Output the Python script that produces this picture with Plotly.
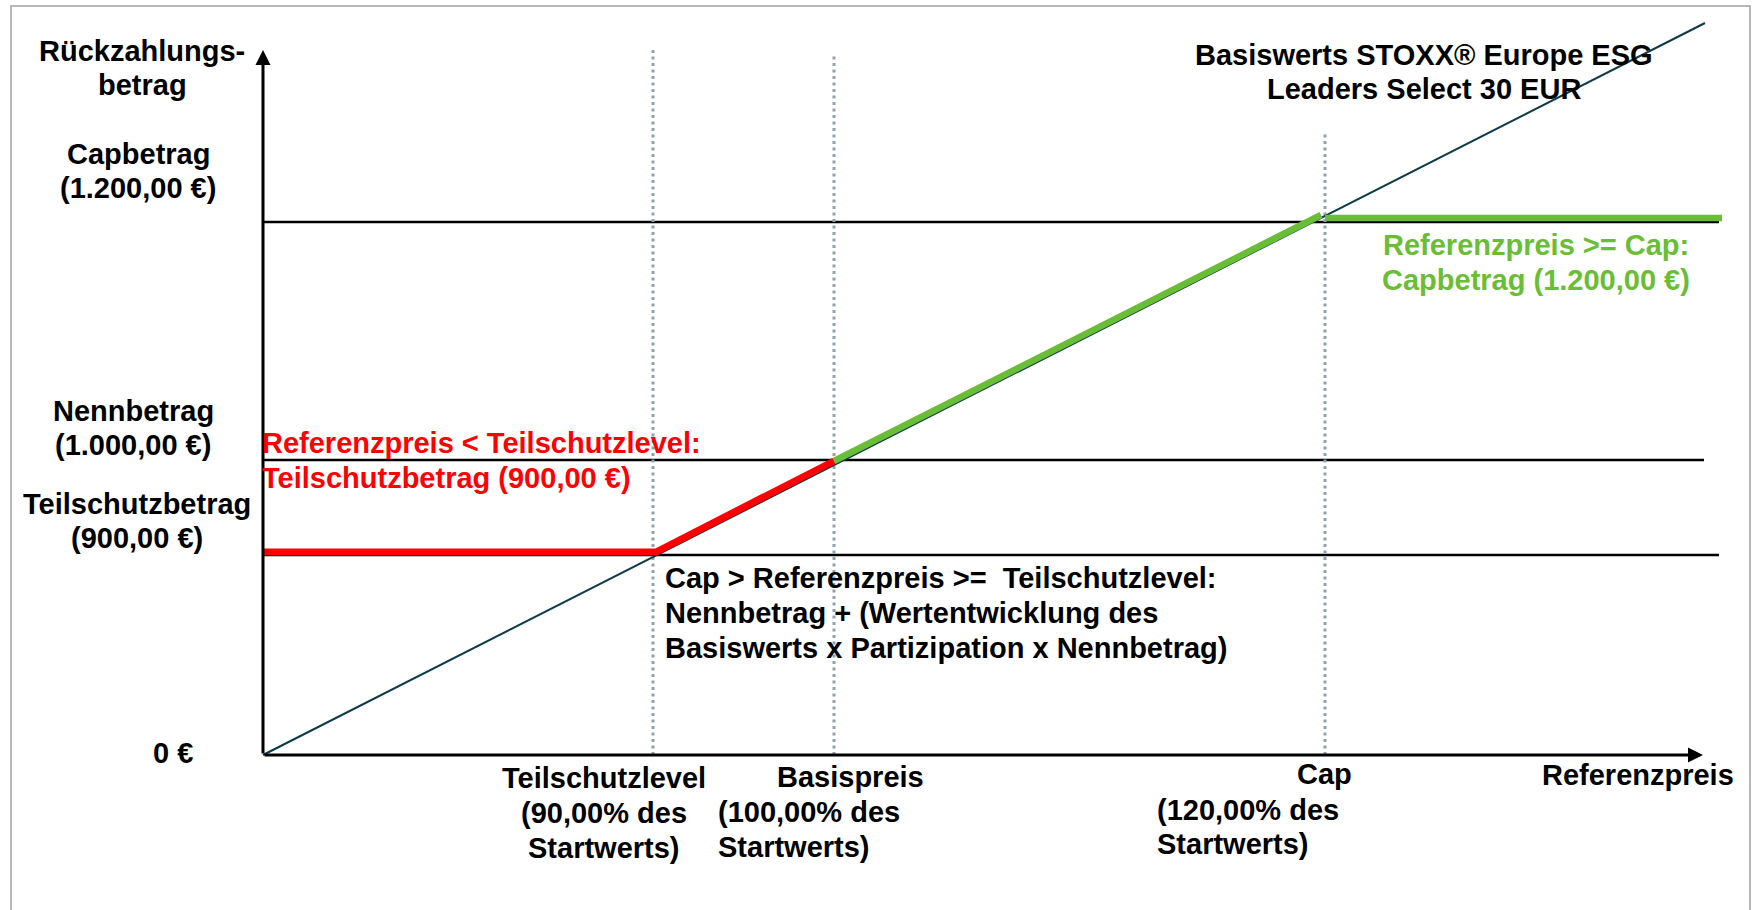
import plotly.graph_objects as go

# ---------------- data (schematic diagram units) ----------------
# x positions of the price levels on the schematic Referenzpreis axis
x_level_names = ["Teilschutzlevel", "Basispreis", "Cap"]
x_level_pos = [390, 571, 1062]
x_level_dotted_top = [705, 701, 622]

# y positions of the payout levels on the schematic Rückzahlungsbetrag axis
y_level_names = ["Teilschutzbetrag", "Nennbetrag", "Capbetrag"]
y_level_pos = [200, 295, 533]
y_line_end = [1456, 1441, 1456]

# underlying (diagonal) line
under_x = [0, 1442]
under_y = [0, 732]

# payout profile segments
red_x = [0, 393, 571]
red_y = [203, 203, 294]
green_diag_x = [571, 1058]
green_diag_y = [294, 540]
green_flat_x = [1062, 1459]
green_flat_y = [537, 537]

axis_x_end = 1440
axis_y_end = 705

left_labels = [["Rückzahlungs-", "betrag"], ["Capbetrag", "(1.200,00 €)"],
               ["Nennbetrag", "(1.000,00 €)"], ["Teilschutzbetrag", "(900,00 €)"], ["0 €"]]
title_lines = ["Basiswerts STOXX® Europe ESG", "Leaders Select 30 EUR"]
green_lines = ["Referenzpreis >= Cap:", "Capbetrag (1.200,00 €)"]
red_lines = ["Referenzpreis < Teilschutzlevel:", "Teilschutzbetrag (900,00 €)"]
mid_lines = ["Cap > Referenzpreis >=  Teilschutzlevel:", "Nennbetrag + (Wertentwicklung des",
             "Basiswerts x Partizipation x Nennbetrag)"]
bottom_labels = [["Teilschutzlevel", "(90,00% des", "Startwerts)"],
                 ["Basispreis", "(100,00% des", "Startwerts)"],
                 ["Cap", "(120,00% des", "Startwerts)"],
                 ["Referenzpreis"]]

# ---------------- styles ----------------
FONT = "Liberation Sans, Arial, sans-serif"
FS = 29
BLACK = "#000000"
RED = "#ff0000"
GREEN = "#6abd36"
TEAL = "#0c3a48"
DOT = "#8ea3ad"

fig = go.Figure()

# horizontal level lines
for yv, xe in zip(y_level_pos, y_line_end):
    fig.add_trace(go.Scatter(x=[0, xe], y=[yv, yv], mode="lines",
                             line=dict(color=BLACK, width=2.7), hoverinfo="skip"))
# dotted vertical lines
for xv, yt in zip(x_level_pos, x_level_dotted_top):
    fig.add_trace(go.Scatter(x=[xv, xv], y=[0, yt], mode="lines",
                             line=dict(color=DOT, width=3, dash="3px,3.5px"), hoverinfo="skip"))
# underlying diagonal
fig.add_trace(go.Scatter(x=under_x, y=under_y, mode="lines",
                         line=dict(color=TEAL, width=2), hoverinfo="skip"))
# payout profile
fig.add_trace(go.Scatter(x=red_x, y=red_y, mode="lines",
                         line=dict(color=RED, width=7), hoverinfo="skip"))
fig.add_trace(go.Scatter(x=green_diag_x, y=green_diag_y, mode="lines",
                         line=dict(color=GREEN, width=6.5), hoverinfo="skip"))
fig.add_trace(go.Scatter(x=green_flat_x, y=green_flat_y, mode="lines",
                         line=dict(color=GREEN, width=6.5), hoverinfo="skip"))

annotations = []

# axis arrows
annotations.append(dict(x=0, y=axis_y_end, ax=0, ay=0, xref="x", yref="y", axref="x", ayref="y",
                        showarrow=True, arrowhead=2, arrowsize=1, arrowwidth=3, arrowcolor=BLACK,
                        text="", standoff=0, startstandoff=0))
annotations.append(dict(x=axis_x_end, y=0, ax=0, ay=0, xref="x", yref="y", axref="x", ayref="y",
                        showarrow=True, arrowhead=2, arrowsize=1, arrowwidth=3, arrowcolor=BLACK,
                        text="", standoff=0, startstandoff=0))


def add_lines(lines, x, y0, spacing, anchor="center", color=BLACK, xs=None):
    for i, t in enumerate(lines):
        xx = x if xs is None else xs[i]
        annotations.append(dict(x=xx, y=y0 - i * spacing, xref="x", yref="y", text=t,
                                showarrow=False, xanchor=anchor, yanchor="middle",
                                font=dict(family=FONT, size=FS, color=color, weight="bold")))


# left labels
add_lines(left_labels[0], -121, 704, 34)
add_lines(left_labels[1], -125, 601, 34)
add_lines(left_labels[2], -130, 344, 34)
add_lines(left_labels[3], -126, 251, 34)
add_lines(left_labels[4], -90, 2, 34)

# title
add_lines(title_lines, 1161, 700, 34)
# green / red / middle texts
add_lines(green_lines, 1273, 510, 35, color=GREEN)
add_lines(red_lines, -3, 312, 35, anchor="left", color=RED)
add_lines(mid_lines, 400, 177, 35, anchor="left")

# bottom labels
add_lines(bottom_labels[0], 341, -23, 35)
add_lines(bottom_labels[1], None, -22, 35, anchor="left", xs=[512, 453, 453])
add_lines(bottom_labels[2][:1], 1061, -19, 35)
add_lines(bottom_labels[2][1:], 892, -55, 34, anchor="left")
add_lines(bottom_labels[3], 1375, -20, 35)

# outer frame
shapes = [dict(type="rect", xref="x", yref="y", x0=-252, x1=1487, y0=749, y1=-170,
               line=dict(color="#a0a0a0", width=1.5), fillcolor="rgba(0,0,0,0)", layer="below")]

fig.update_layout(
    width=1754, height=910,
    margin=dict(l=0, r=0, t=0, b=0, pad=0),
    paper_bgcolor="white", plot_bgcolor="white",
    showlegend=False,
    xaxis=dict(range=[-263, 1491], visible=False, fixedrange=True),
    yaxis=dict(range=[-155, 755], visible=False, fixedrange=True),
    annotations=annotations,
    shapes=shapes,
)

fig.write_html("out.html",
               config={"displayModeBar": False, "staticPlot": True},
               post_script="document.body.style.margin='0';document.body.style.overflow='hidden';")
